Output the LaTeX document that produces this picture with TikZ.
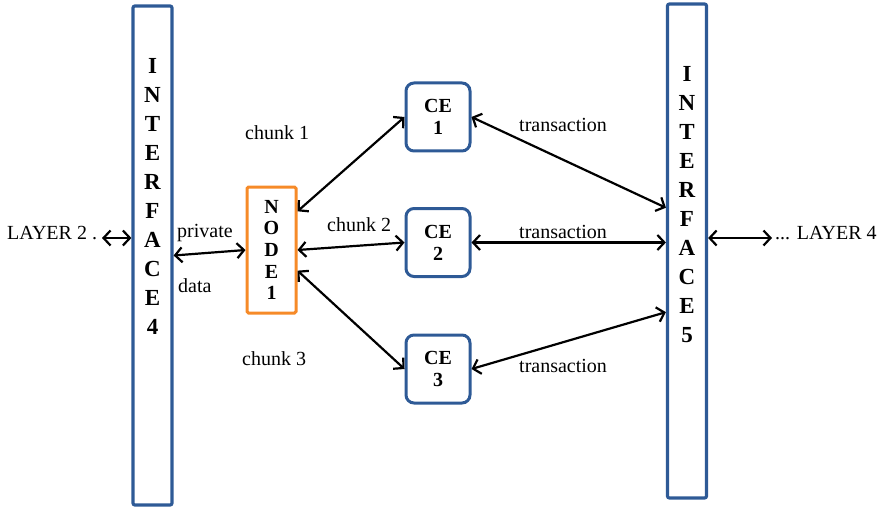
\documentclass[tikz,border=0pt]{standalone}
\usepackage{fontspec}
\setmainfont{Liberation Serif}
\usetikzlibrary{arrows.meta,calc}
\definecolor{boxblue}{RGB}{46,90,150}
\definecolor{boxorange}{RGB}{246,138,40}
\begin{document}
\begin{tikzpicture}[x=1pt,y=-1pt,
  lbl/.style={font=\fontsize{20}{22}\selectfont, inner sep=0pt},
  ifbox/.style={draw=boxblue, line width=3.2pt, rounded corners=2pt, minimum width=39pt, inner sep=0pt},
  cebox/.style={draw=boxblue, line width=3pt, rounded corners=8pt, minimum width=64pt, minimum height=68pt, inner sep=0pt, align=center, font=\bfseries\fontsize{20}{22}\selectfont},
  nodebox/.style={draw=boxorange, line width=3pt, rounded corners=1.5pt, minimum width=49pt, minimum height=126pt, inner sep=0pt, align=center, font=\bfseries\fontsize{20}{21.7}\selectfont},
  vtext/.style={align=center, inner sep=0pt, font=\bfseries\fontsize{23}{29}\selectfont},
  conn/.style={line width=2.2pt, {Straight Barb[length=7pt,width=15pt]}-{Straight Barb[length=7pt,width=15pt]}}
]
\useasboundingbox (0,0) rectangle (881,508);
% interfaces
\node[ifbox, minimum height=499pt] (if4) at (152.5,255.5) {};
\node[vtext] (if4t) at (152.5,196) {I\\N\\T\\E\\R\\F\\A\\C\\E\\4};
\node[ifbox, minimum height=494pt] (if5) at (687,251) {};
\node[vtext] (if5t) at (687,205) {I\\N\\T\\E\\R\\F\\A\\C\\E\\5};
% node 1
\node[nodebox] (n1) at (271.5,250) {N\\O\\D\\E\\1};
% CE boxes
\node[cebox] (ce1) at (438,117) {CE\\1};
\node[cebox] (ce2) at (438,242.5) {CE\\2};
\node[cebox] (ce3) at (438,369) {CE\\3};
% outer labels
\node[lbl, anchor=base west] (l2) at (7,239) {LAYER 2 .};
\coordinate (l2a) at (102,238);
\node[lbl, anchor=base west] (l4) at (775,239) {... LAYER 4};
\coordinate (l4a) at (772,238);
% connectors
\draw[conn] (l2a) -- (if4.west |- l2a);
\draw[conn] (if5.east |- l4a) -- (l4a);
\draw[conn] (if4.east) -- (n1.west);
\draw[conn] ($(n1.north east)!0.2!(n1.south east)$) -- (ce1.west);
\draw[conn] (n1.east) -- (ce2.west);
\draw[conn] ($(n1.north east)!0.66!(n1.south east)$) -- (ce3.west);
\draw[conn] (ce1.east) -- ($(if5.north west)!0.413!(if5.south west)$);
\draw[conn] (ce2.east) -- (if5.west |- ce2.east);
\draw[conn] (ce3.east) -- ($(if5.north west)!0.623!(if5.south west)$);
% labels
\node[lbl, anchor=base west] (lp) at (177,237) {private};
\node[lbl, anchor=base west] (ld) at (178,292) {data};
\node[lbl, anchor=base west] (c1) at (245,140) {chunk 1};
\node[lbl, anchor=base west] (c2) at (327,231) {chunk 2};
\node[lbl, anchor=base west] (c3) at (242,365) {chunk 3};
\node[lbl, anchor=base west] (t1) at (519,132) {transaction};
\node[lbl, anchor=base west] (t2) at (519,238) {transaction};
\node[lbl, anchor=base west] (t3) at (519,372) {transaction};
\end{tikzpicture}
\end{document}
